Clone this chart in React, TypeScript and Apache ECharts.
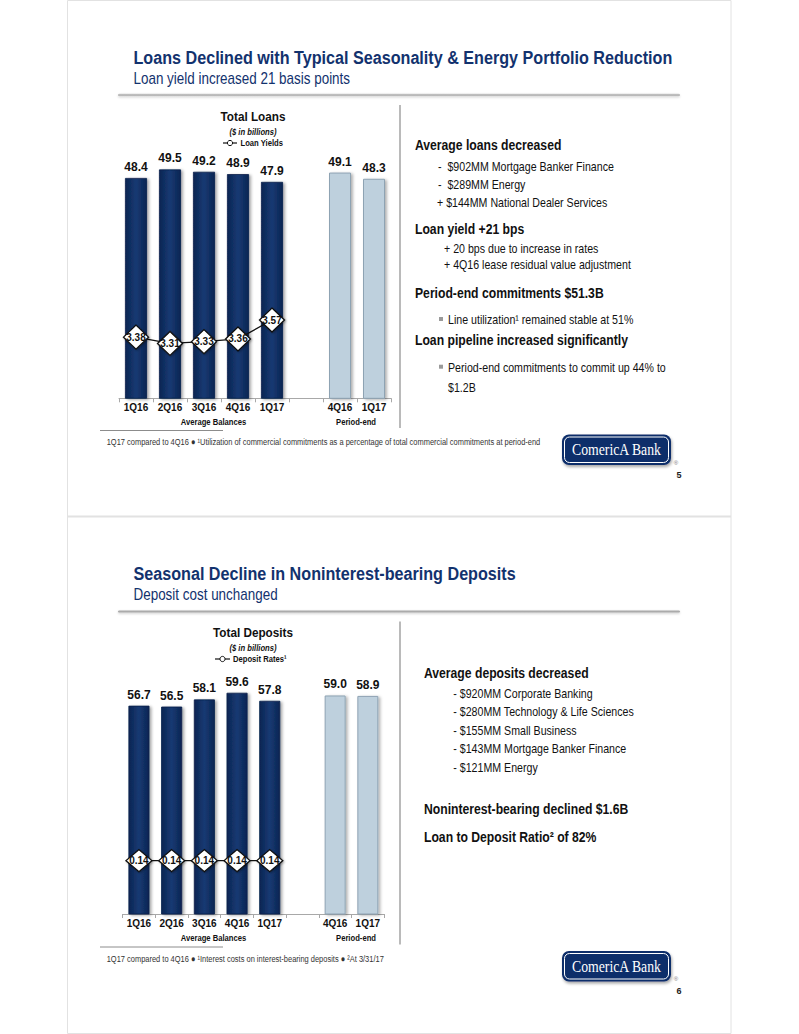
import React, { useEffect, useRef } from "react";
import * as echarts from "echarts";

// ---------- data ----------
const avgQuarters = ["1Q16", "2Q16", "3Q16", "4Q16", "1Q17"];
const periodQuarters = ["4Q16", "1Q17"];

const avgLoans = [48.4, 49.5, 49.2, 48.9, 47.9];
const periodEndLoans = [49.1, 48.3];
const loanYields = [3.38, 3.31, 3.33, 3.36, 3.57];

const avgDeposits = [56.7, 56.5, 58.1, 59.6, 57.8];
const periodEndDeposits = [59.0, 58.9];
const depositRates = [0.14, 0.14, 0.14, 0.14, 0.14];

const loanBullets = [
  "-  $902MM Mortgage Banker Finance",
  "-  $289MM Energy",
  "+ $144MM National Dealer Services",
];
const yieldBullets = ["+ 20 bps due to increase in rates", "+ 4Q16 lease residual value adjustment"];
const depositBullets = [
  "- $920MM Corporate Banking",
  "- $280MM Technology & Life Sciences",
  "- $155MM Small Business",
  "- $143MM Mortgage Banker Finance",
  "- $121MM Energy",
];

// ---------- style helpers ----------
const SANS = "'Liberation Sans', Arial, sans-serif";
const NAVY = "#12326e";
const SX = 0.85;
const D = 516.5; // vertical offset of second slide

function txt(text: string, x: number, y: number, size: number, o: any = {}) {
  return {
    type: "text",
    x,
    y,
    scaleX: o.sx ?? SX,
    silent: true,
    z: 10,
    style: {
      text,
      fill: o.color ?? "#111",
      fontSize: size,
      fontWeight: o.bold ? "bold" : "normal",
      fontStyle: o.italic ? "italic" : "normal",
      fontFamily: o.font ?? SANS,
      align: o.align ?? "left",
      verticalAlign: "middle",
    },
  };
}

function logo(y0: number, page: string) {
  return [
    {
      type: "rect",
      shape: { x: 562, y: y0, width: 109, height: 30.5, r: 7 },
      style: { fill: "#0e2d6b", shadowBlur: 3, shadowOffsetX: 1, shadowOffsetY: 2, shadowColor: "rgba(0,0,0,0.35)" },
      silent: true,
    },
    {
      type: "rect",
      shape: { x: 564.5, y: y0 + 2.5, width: 104, height: 25.5, r: 5 },
      style: { fill: "none", stroke: "#ffffff", lineWidth: 1 },
      silent: true,
    },
    txt("ComericA Bank", 616.5, y0 + 15.5, 16, {
      color: "#ffffff",
      align: "center",
      font: "'Liberation Serif', 'DejaVu Serif', serif",
      sx: 0.86,
    }),
    txt("®", 676, y0 + 28, 6, { color: "#777", align: "center", sx: 1 }),
    txt(page, 679, y0 + 40, 9, { bold: true, align: "center", color: "#222", sx: 1 }),
  ];
}

function slideHeader(dy: number, title: string, subtitle: string) {
  return [
    txt(title, 133.5, 57.5 + dy, 19, { bold: true, color: NAVY }),
    txt(subtitle, 133.5, 78.5 + dy, 16, { color: NAVY, sx: 0.84 }),
    {
      type: "rect",
      shape: { x: 118, y: 93.5 + dy, width: 562, height: 3, r: 1.5 },
      style: {
        fill: {
          type: "linear",
          x: 0,
          y: 0,
          x2: 0,
          y2: 1,
          colorStops: [
            { offset: 0, color: "#e2e2e2" },
            { offset: 0.5, color: "#ababab" },
            { offset: 1, color: "#d6d6d6" },
          ],
        },
        shadowBlur: 2,
        shadowOffsetY: 1,
        shadowColor: "rgba(0,0,0,0.15)",
      },
      silent: true,
    },
    {
      type: "line",
      shape: { x1: 400, y1: 105 + dy, x2: 400, y2: 428 + dy },
      style: { stroke: "#8c8c8c", lineWidth: 1.2 },
      silent: true,
    },
  ];
}

function chartHeader(dy: number, title: string, legend: string, lx0: number, lx1: number, tx: number) {
  const ly = 143 + dy;
  const mx = (lx0 + lx1) / 2;
  return [
    txt(title, 253, 117 + dy, 13.5, { bold: true, align: "center", sx: 0.87 }),
    txt("($ in billions)", 253, 131.5 + dy, 9, { bold: true, italic: true, align: "center" }),
    {
      type: "line",
      shape: { x1: lx0, y1: ly, x2: lx1, y2: ly },
      style: { stroke: "#111", lineWidth: 1.2 },
      silent: true,
    },
    {
      type: "circle",
      shape: { cx: mx, cy: ly, r: 2.6 },
      style: { fill: "#fff", stroke: "#111", lineWidth: 1 },
      silent: true,
    },
    txt(legend, tx, ly, 9, { bold: true }),
    txt("Average Balances", 213.5, 421.8 + dy, 9, { bold: true, align: "center" }),
    txt("Period-end", 356, 421.8 + dy, 9, { bold: true, align: "center" }),
  ];
}

function bullet(x: number, y: number) {
  return {
    type: "rect",
    shape: { x: x - 2, y: y - 2, width: 4, height: 4 },
    style: { fill: "#9a9a9a" },
    silent: true,
  };
}

const DARK = {
  color: {
    type: "linear",
    x: 0,
    y: 0,
    x2: 1,
    y2: 0,
    colorStops: [
      { offset: 0, color: "#0b2553" },
      { offset: 0.5, color: "#173a73" },
      { offset: 1, color: "#0b2553" },
    ],
  },
  borderColor: "#08204a",
  borderWidth: 0.8,
  shadowColor: "rgba(0,0,0,0.35)",
  shadowBlur: 3,
  shadowOffsetX: 2,
  shadowOffsetY: 1,
};
const LIGHT = {
  color: "#bed0dd",
  borderColor: "#8ea3b3",
  borderWidth: 1,
  shadowColor: "rgba(0,0,0,0.3)",
  shadowBlur: 3,
  shadowOffsetX: 2,
  shadowOffsetY: 1,
};

function barData(avg: number[], pe: number[]) {
  return [
    ...avg.map((v) => ({ value: v, itemStyle: DARK })),
    { value: null },
    ...pe.map((v) => ({ value: v, itemStyle: LIGHT })),
  ];
}

const categories = [...avgQuarters, "", ...periodQuarters];

function xAxis(gridIndex: number) {
  return {
    type: "category",
    gridIndex,
    data: categories,
    axisLine: { lineStyle: { color: "#a8a8a8", width: 1 } },
    axisTick: { show: true, length: 4, lineStyle: { color: "#a8a8a8" } },
    axisLabel: { interval: 0, margin: 4, fontSize: 10, fontWeight: "bold", color: "#111", fontFamily: SANS },
  };
}

function barSeries(idx: number, data: any[], width: number) {
  return {
    type: "bar",
    xAxisIndex: idx,
    yAxisIndex: idx * 2,
    barWidth: width,
    data,
    z: 2,
    label: {
      show: true,
      position: "top",
      distance: 5,
      fontSize: 12,
      fontWeight: "bold",
      color: "#111",
      fontFamily: SANS,
      formatter: (p: any) => (typeof p.value === "number" ? p.value.toFixed(1) : ""),
    },
  };
}

function lineSeries(idx: number, name: string, data: number[], size: number[]) {
  return {
    type: "line",
    name,
    xAxisIndex: idx,
    yAxisIndex: idx * 2 + 1,
    data,
    z: 5,
    symbol: "diamond",
    symbolSize: size,
    lineStyle: { color: "#111", width: 1.3 },
    itemStyle: {
      color: "#ffffff",
      borderColor: "#111",
      borderWidth: 1.3,
      shadowColor: "rgba(0,0,0,0.3)",
      shadowBlur: 2,
      shadowOffsetX: 1,
      shadowOffsetY: 1,
    },
    label: {
      show: true,
      position: "inside",
      fontSize: 10,
      fontWeight: "bold",
      color: "#111",
      fontFamily: SANS,
      formatter: (p: any) => p.value.toFixed(2),
    },
  };
}

export default function App() {
  const ref = useRef<HTMLDivElement>(null);
  useEffect(() => {
    if (!ref.current) return;
    const chart = echarts.init(ref.current, undefined, { renderer: "svg" });

    const graphics: any[] = [
      // page frame
      {
        type: "rect",
        shape: { x: 67.5, y: 0.5, width: 663.5, height: 1033 },
        style: { fill: "none", stroke: "#e2e2e2", lineWidth: 1 },
        silent: true,
      },
      {
        type: "line",
        shape: { x1: 67.5, y1: D, x2: 731, y2: D },
        style: { stroke: "#e2e2e2", lineWidth: 2 },
        silent: true,
      },
      ...slideHeader(0, "Loans Declined with Typical Seasonality & Energy Portfolio Reduction", "Loan yield increased 21 basis points"),
      ...slideHeader(D, "Seasonal Decline in Noninterest-bearing Deposits", "Deposit cost unchanged"),
      ...chartHeader(0, "Total Loans", "Loan Yields", 223, 237, 240.5),
      ...chartHeader(D - 0.5, "Total Deposits", "Deposit Rates¹", 215, 230, 233),
      // slide 1 right text
      txt("Average loans decreased", 415, 145, 14, { bold: true, sx: 0.87 }),
      ...loanBullets.map((t, i) => txt(t, i === 2 ? 437 : 438, 166 + i * 18.3, 12.5)),
      txt("Loan yield +21 bps", 415, 229, 14, { bold: true, sx: 0.87 }),
      ...yieldBullets.map((t, i) => txt(t, 444, 248 + i * 16, 12.5)),
      txt("Period-end commitments $51.3B", 415, 293, 14, { bold: true, sx: 0.87 }),
      bullet(441, 319),
      txt("Line utilization¹ remained stable at 51%", 448, 319, 12.5),
      txt("Loan pipeline increased significantly", 415, 340, 14, { bold: true, sx: 0.87 }),
      bullet(441, 366.7),
      txt("Period-end commitments to commit up 44% to", 448, 366.7, 12.5),
      txt("$1.2B", 448, 386.7, 12.5),
      // slide 2 right text
      txt("Average deposits decreased", 424, 672.7, 14, { bold: true, sx: 0.87 }),
      ...depositBullets.map((t, i) => txt(t, 453.3, 693.3 + i * 18.35, 12.5)),
      txt("Noninterest-bearing declined $1.6B", 424, 809.3, 14, { bold: true, sx: 0.87 }),
      txt("Loan to Deposit Ratio² of 82%", 424, 836.7, 14, { bold: true, sx: 0.87 }),
      // footnotes
      {
        type: "line",
        shape: { x1: 100, y1: 430.5, x2: 223, y2: 430.5 },
        style: { stroke: "#8c8c8c", lineWidth: 1 },
        silent: true,
      },
      txt(
        "1Q17 compared to 4Q16 ● ¹Utilization of commercial commitments as a percentage of total commercial commitments at period-end",
        106.7,
        442.5,
        9,
        { color: "#333", sx: 0.83 }
      ),
      {
        type: "line",
        shape: { x1: 100, y1: 430.5 + D, x2: 223, y2: 430.5 + D },
        style: { stroke: "#8c8c8c", lineWidth: 1 },
        silent: true,
      },
      txt(
        "1Q17 compared to 4Q16 ● ¹Interest costs on interest-bearing deposits ● ²At 3/31/17",
        106.7,
        442.5 + D,
        9,
        { color: "#333", sx: 0.83 }
      ),
      ...logo(434.5, "5"),
      ...logo(434.5 + D, "6"),
    ];

    chart.setOption({
      animation: false,
      backgroundColor: "#ffffff",
      grid: [
        { left: 119, top: 88, width: 272, height: 310.3, containLabel: false },
        { left: 122.6, top: 601.8, width: 261.6, height: 312.2, containLabel: false },
      ],
      xAxis: [xAxis(0), xAxis(1)],
      yAxis: [
        { type: "value", gridIndex: 0, min: 20, max: 60, show: false },
        { type: "value", gridIndex: 0, min: 2.7, max: 6.15, show: false },
        { type: "value", gridIndex: 1, min: 10, max: 80, show: false },
        { type: "value", gridIndex: 1, min: 0, max: 0.82, show: false },
      ],
      series: [
        barSeries(0, barData(avgLoans, periodEndLoans), 22),
        lineSeries(0, "Loan Yields", loanYields, [25, 24]),
        barSeries(1, barData(avgDeposits, periodEndDeposits), 21),
        lineSeries(1, "Deposit Rates¹", depositRates, [26, 22]),
      ],
      graphic: graphics,
    });

    return () => chart.dispose();
  }, []);

  return (
    <div
      ref={ref}
      style={{ position: "absolute", left: 0, top: 0, width: 799, height: 1034, background: "#fff" }}
    />
  );
}
